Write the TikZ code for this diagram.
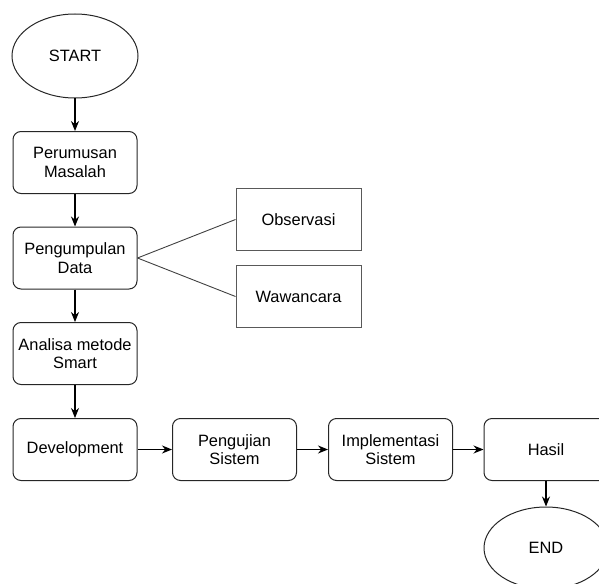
\documentclass[tikz,border=0pt]{standalone}
\usepackage{fontspec}
\setmainfont{Liberation Sans}
\usetikzlibrary{positioning,arrows.meta,shapes.geometric}

\begin{document}
\begin{tikzpicture}[x=1pt,y=-1pt,
	every node/.style={draw=black!85,line width=1pt,inner sep=0pt,align=center,
		font=\fontsize{16.4}{18.5}\selectfont,minimum width=124pt,minimum height=62pt},
	box/.style={rounded corners=8pt},
	term/.style={ellipse,minimum width=126pt,minimum height=84pt},
	side/.style={draw=black!65,minimum width=125pt},
	>={Stealth[length=10pt,width=8pt]}]
\useasboundingbox (0,0) rectangle (599,583);
\clip (0,0) rectangle (599,583);
\node[term] (start) at (75,56) {START};
\node[box] (perumusan) at (75,162.5) {Perumusan\\Masalah};
\node[box] (pengumpulan) at (75,258) {Pengumpulan\\Data};
\node[box] (analisa) at (75,353.5) {Analisa metode\\Smart};
\node[box] (development) at (75,449.5) {Development};
\node[box] (pengujian) at (234.5,449.5) {Pengujian\\Sistem};
\node[box] (implementasi) at (390.5,449.5) {Implementasi\\Sistem};
\node[box] (hasil) at (546,449.5) {Hasil};
\node[term,minimum width=124pt,minimum height=82pt] (stop) at (546,548) {END};
\node[side] (observasi) at (298.5,219.5) {Observasi};
\node[side] (wawancara) at (298.5,296.5) {Wawancara};
\foreach \a/\b in {start/perumusan,perumusan/pengumpulan,pengumpulan/analisa,analisa/development,
	development/pengujian,pengujian/implementasi,implementasi/hasil,hasil/stop}
	\draw[->,line width=1.1pt](\a)--(\b);
\foreach \s in {observasi,wawancara}
	\draw[black!75,line width=0.9pt](pengumpulan.east)--(\s.west);
\end{tikzpicture}
\end{document}
